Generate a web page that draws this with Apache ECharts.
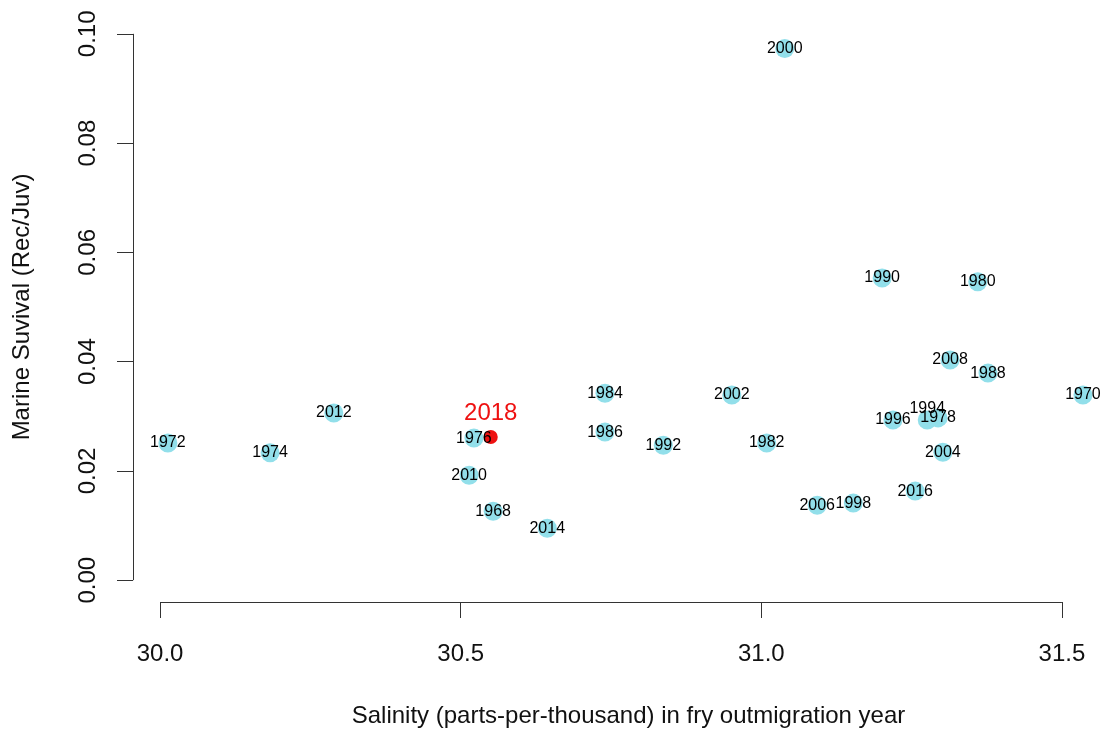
<!DOCTYPE html>
<html>
<head>
<meta charset="utf-8">
<script src="https://cdn.jsdelivr.net/npm/echarts@6/dist/echarts.min.js"></script>
<style>
html,body{margin:0;padding:0;background:#fff;}
#chart{width:1110px;height:735px;}
</style>
</head>
<body>
<div id="chart"></div>
<script>
// ---- data ----
const years = [1968, 1970, 1972, 1974, 1976, 1978, 1980, 1982, 1984, 1986, 1988, 1990, 1992,
               1994, 1996, 1998, 2000, 2002, 2004, 2006, 2008, 2010, 2012, 2014, 2016];
const salinity = [30.554, 31.535, 30.013, 30.183, 30.522, 31.294, 31.360, 31.009, 30.740, 30.740, 31.377, 31.201, 30.837,
                  31.276, 31.219, 31.153, 31.039, 30.951, 31.302, 31.093, 31.314, 30.514, 30.289, 30.644, 31.256];
const survival = [0.0126, 0.0339, 0.0251, 0.0233, 0.0260, 0.0297, 0.0546, 0.0251, 0.0342, 0.0271, 0.0379, 0.0553, 0.0247,
                  0.0293, 0.0293, 0.0141, 0.0973, 0.0339, 0.0234, 0.0137, 0.0403, 0.0192, 0.0306, 0.0095, 0.0163];
const highlightYear = 2018;
const highlightSalinity = 30.550;
const highlightSurvival = 0.0262;
const xTicks = [30.0, 30.5, 31.0, 31.5];
const yTicks = [0.00, 0.02, 0.04, 0.06, 0.08, 0.10];
const xTitle = 'Salinity (parts-per-thousand) in fry outmigration year';
const yTitle = 'Marine Suvival (Rec/Juv)';

// ---- build ----
const FONT = '"Liberation Sans", Arial, sans-serif';
const X_MIN = 29.955, X_MAX = 31.56, Y_MIN = -0.004, Y_MAX = 0.104;

const pts = years.map((y, i) => ({ name: String(y), value: [salinity[i], survival[i]] }));
const labelPts = years.map((y, i) => {
  const d = { name: String(y), value: [salinity[i], survival[i]] };
  if (y === 1994) d.label = { offset: [0, -11] };
  return d;
});

const chart = echarts.init(document.getElementById('chart'), null, { renderer: 'canvas' });
chart.setOption({
  backgroundColor: '#ffffff',
  animation: false,
  grid: { left: 133, right: 12, top: 12, bottom: 133, containLabel: false },
  xAxis: {
    type: 'value', min: X_MIN, max: X_MAX,
    axisLine: { show: false, onZero: false },
    splitLine: { show: false },
    axisTick: { show: true, customValues: xTicks, length: 16, lineStyle: { color: '#333', width: 1 } },
    axisLabel: { customValues: xTicks, margin: 40, fontSize: 24, color: '#111', fontFamily: FONT,
                 formatter: v => v.toFixed(1) },
    name: xTitle, nameLocation: 'middle', nameGap: 102, nameMoveOverlap: false,
    nameTextStyle: { fontSize: 24, color: '#111', fontFamily: FONT, padding: [0, 0, 0, 26] }
  },
  yAxis: {
    type: 'value', min: Y_MIN, max: Y_MAX,
    axisLine: { show: false, onZero: false },
    splitLine: { show: false },
    axisTick: { show: true, customValues: yTicks, length: 16, lineStyle: { color: '#333', width: 1 } },
    axisLabel: { customValues: yTicks, margin: 33, rotate: 90, fontSize: 24, color: '#111', fontFamily: FONT,
                 formatter: v => v.toFixed(2) },
    name: yTitle, nameLocation: 'middle', nameGap: 99, nameMoveOverlap: false,
    nameTextStyle: { fontSize: 24, color: '#111', fontFamily: FONT }
  },
  series: [
    {
      type: 'scatter', z: 2, symbol: 'circle', symbolSize: 19,
      itemStyle: { color: '#92dfea', opacity: 1 },
      data: pts,
      markLine: {
        silent: true, symbol: 'none', animation: false, label: { show: false },
        lineStyle: { color: '#333', width: 1, type: 'solid' },
        data: [
          [{ coord: [X_MIN, yTicks[0]] }, { coord: [X_MIN, yTicks[yTicks.length - 1]] }],
          [{ coord: [xTicks[0], Y_MIN] }, { coord: [xTicks[xTicks.length - 1], Y_MIN] }]
        ]
      }
    },
    {
      type: 'scatter', z: 3, symbol: 'circle', symbolSize: 14,
      itemStyle: { color: '#ee1111', opacity: 1 },
      data: [{ name: String(highlightYear), value: [highlightSalinity, highlightSurvival] }],
      label: { show: true, position: 'top', distance: 5, formatter: '{b}', fontSize: 24,
               color: '#ee1111', fontFamily: FONT, opacity: 1 }
    },
    {
      type: 'scatter', z: 4, symbol: 'circle', symbolSize: 19,
      itemStyle: { color: 'rgba(0,0,0,0)', opacity: 1 },
      data: labelPts,
      label: { show: true, position: 'inside', formatter: '{b}', fontSize: 16, color: '#000',
               fontFamily: FONT, opacity: 1, textBorderWidth: 0 }
    }
  ]
});
</script>
</body>
</html>
